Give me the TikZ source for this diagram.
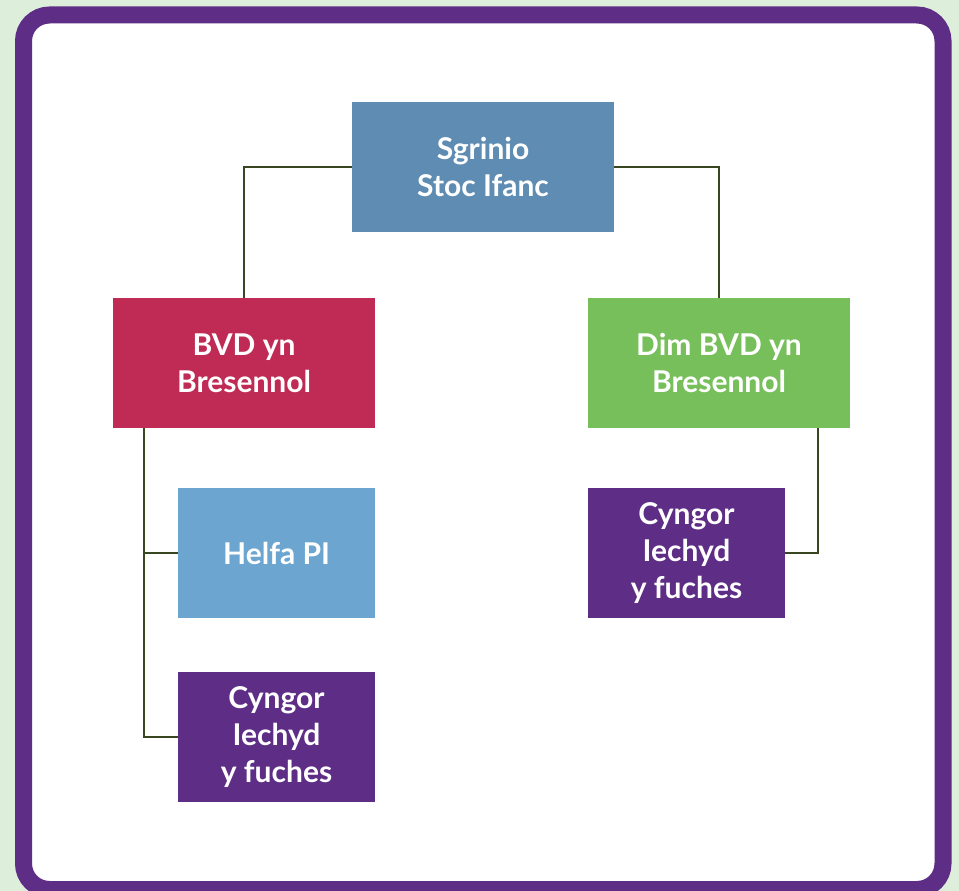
\documentclass[tikz,border=0pt]{standalone}
\usepackage{fontspec}
\setmainfont{Lato}
\definecolor{bggreen}{HTML}{DDEEDB}
\definecolor{framepurple}{HTML}{5E2D86}
\definecolor{sgblue}{HTML}{5F8CB2}
\definecolor{bvdred}{HTML}{C02B55}
\definecolor{dimgreen}{HTML}{77BF5B}
\definecolor{helfablue}{HTML}{6BA5D0}
\definecolor{boxpurple}{HTML}{5E2D86}
\definecolor{linecol}{HTML}{38471F}
\tikzset{
  box/.style={rectangle, inner sep=0pt, align=center, text=white,
    font=\fontsize{30}{37}\selectfont\bfseries},
  widebox/.style={box, minimum width=262pt, minimum height=130pt},
  narrowbox/.style={box, minimum width=197pt, minimum height=130pt},
  conn/.style={draw=linecol, line width=2.5pt}
}
\begin{document}
\begin{tikzpicture}[x=1pt,y=-1pt]
\useasboundingbox (0,0) rectangle (959,891);
\clip (0,0) rectangle (959,891);
\fill[bggreen] (0,0) rectangle (959,891);
\draw[framepurple, line width=17pt, fill=white, rounded corners=26pt] (23.5,15) rectangle (943,889.5);

\node[widebox, fill=sgblue] (sg) at (483,167) {Sgrinio\\Stoc Ifanc};
\node[widebox, fill=bvdred] (bvd) at (244,363) {BVD yn\\Bresennol};
\node[widebox, fill=dimgreen] (dim) at (719,363) {Dim BVD yn\\Bresennol};
\node[narrowbox, fill=helfablue] (helfa) at (276.5,553) {Helfa PI};
\node[narrowbox, fill=boxpurple] (cyl) at (276.5,737) {Cyngor\\Iechyd\\y fuches};
\node[narrowbox, fill=boxpurple] (cyr) at (686.5,553) {Cyngor\\Iechyd\\y fuches};

\coordinate (bl) at ([xshift=31pt]bvd.south west);
\coordinate (br) at ([xshift=-32pt]dim.south east);

\draw[conn] (sg.west) -| (bvd.north);
\draw[conn] (sg.east) -| (dim.north);
\draw[conn] (bl) |- (cyl.west);
\draw[conn] (bl |- helfa.west) -- (helfa.west);
\draw[conn] (br) |- (cyr.east);
\end{tikzpicture}
\end{document}
